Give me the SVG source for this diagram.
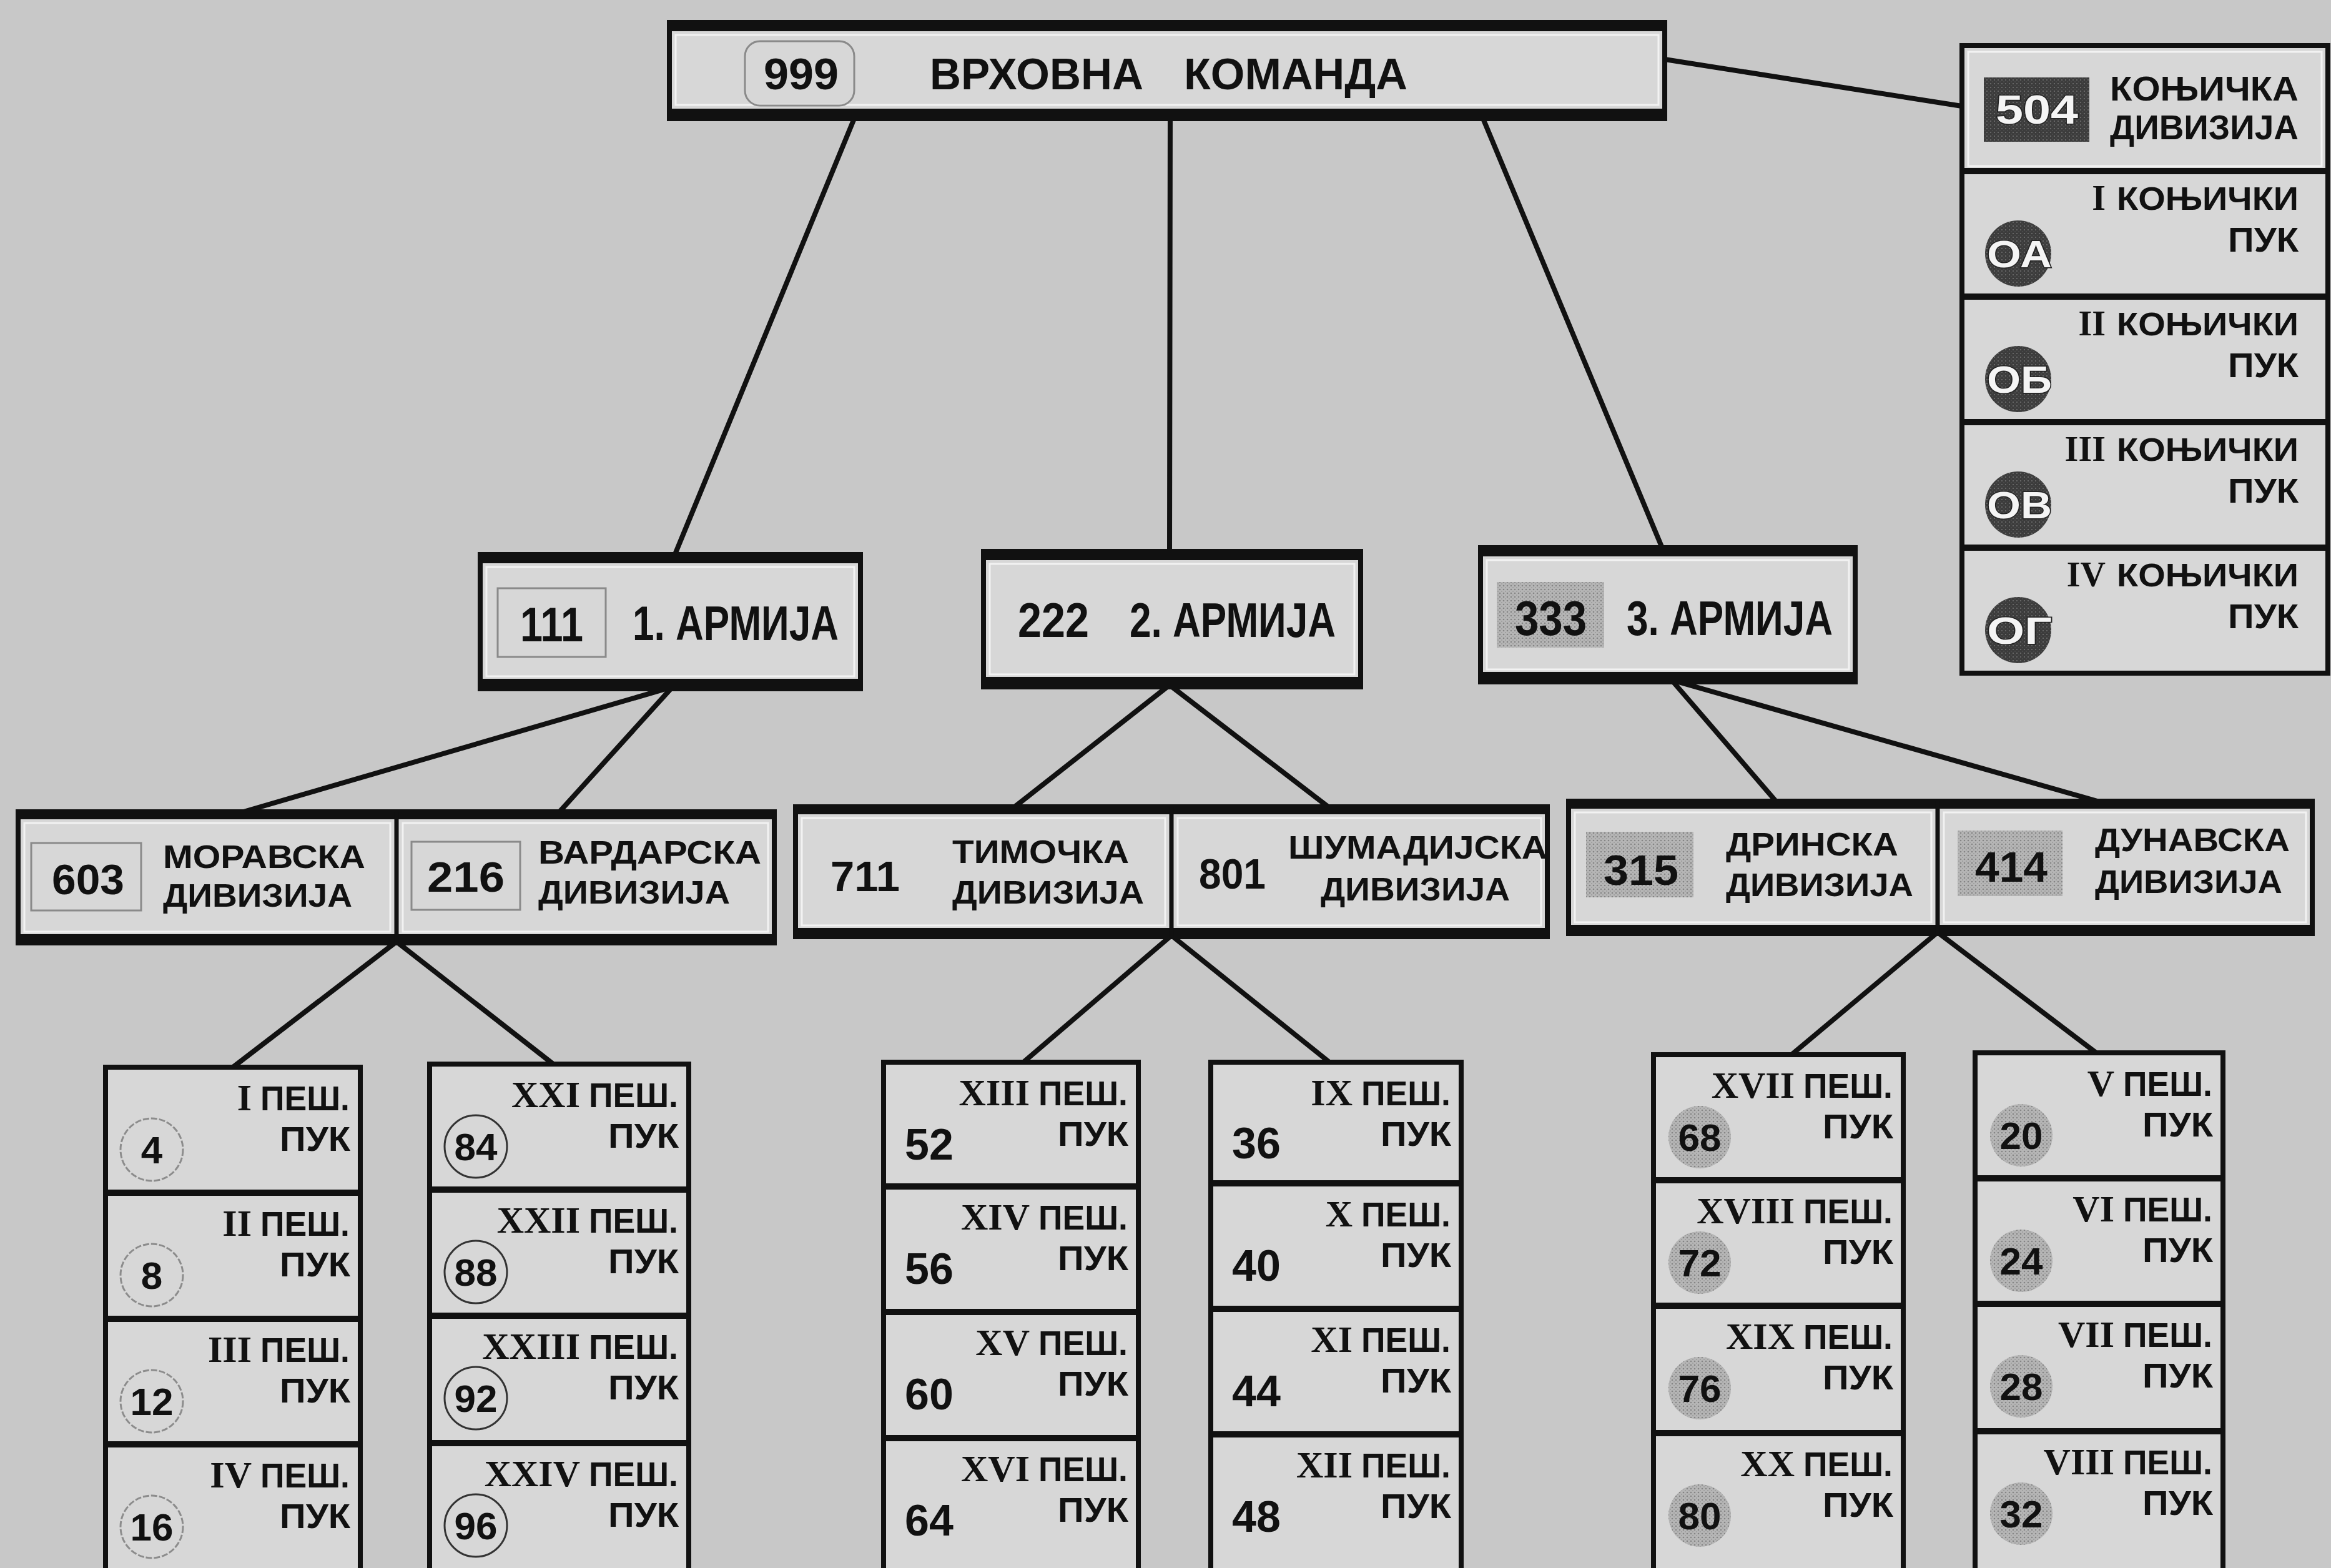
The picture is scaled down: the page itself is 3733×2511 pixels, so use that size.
<svg xmlns="http://www.w3.org/2000/svg" width="3733" height="2511" viewBox="0 0 3733 2511">
<defs>
<style>
.bg{fill:#c8c8c8}
.box{fill:#d7d7d7;stroke:#111;stroke-width:8}
.hl{fill:none;stroke:#f2f2f2;stroke-width:3}
.bar{fill:#111}
.div{stroke:#111;stroke-width:7}
.sep{stroke:#111;stroke-width:10}
.con{stroke:#111;stroke-width:8;fill:none;stroke-linecap:round}
.t{font-family:"Liberation Sans Narrow","Liberation Sans",Arial,sans-serif;font-weight:bold;fill:#111}
.r{font-family:"Liberation Serif","Times New Roman",serif;font-weight:bold;fill:#111}
.big{font-size:70px}
.arm{font-size:78px}
.dn{font-size:52px}
.dnum{font-size:68px}
.lbl{font-size:56px}
.rom{font-size:60px}
.crom{font-size:56px}
.cl{font-size:52px}
.num{font-size:62px;text-anchor:middle}
.mnum{font-size:70px}
.thin{fill:none;stroke:#8a8a8a;stroke-width:3}
.lc{fill:none;stroke:#8c8c8c;stroke-width:3;stroke-dasharray:10 3}
.dc{fill:none;stroke:#333;stroke-width:3}
.sc{fill:url(#stip)}
.kc{fill:url(#dark)}
.wt{font-family:"Liberation Sans Narrow","Liberation Sans",Arial,sans-serif;font-weight:bold;fill:#f4f4f4;stroke:#222;stroke-width:3;paint-order:stroke}
</style>
<pattern id="stip" width="6" height="6" patternUnits="userSpaceOnUse"><rect width="6" height="6" fill="#b6b6b6"/><circle cx="2" cy="2" r="1.3" fill="#858585"/><circle cx="5" cy="5" r="1" fill="#9a9a9a"/></pattern>
<pattern id="dark" width="6" height="6" patternUnits="userSpaceOnUse"><rect width="6" height="6" fill="#3c3c3c"/><circle cx="2" cy="2" r="1.1" fill="#707070"/><circle cx="5" cy="5" r="0.8" fill="#5a5a5a"/></pattern>
</defs>
<rect class="bg" x="0" y="0" width="3733" height="2511"/>

<g id="connectors">
<line class="con" x1="1370" y1="185" x2="1080" y2="890"/>
<line class="con" x1="1874" y1="185" x2="1873" y2="885"/>
<line class="con" x1="2373" y1="185" x2="2663" y2="880"/>
<line class="con" x1="2666" y1="95" x2="3142" y2="170"/>
<line class="con" x1="1077" y1="1100" x2="390" y2="1300"/>
<line class="con" x1="1077" y1="1100" x2="896" y2="1300"/>
<line class="con" x1="1873" y1="1097" x2="1625" y2="1292"/>
<line class="con" x1="1873" y1="1097" x2="2127" y2="1292"/>
<line class="con" x1="2677" y1="1089" x2="2844" y2="1283"/>
<line class="con" x1="2677" y1="1089" x2="3359" y2="1283"/>
<line class="con" x1="635" y1="1508" x2="373" y2="1709"/>
<line class="con" x1="635" y1="1508" x2="886" y2="1704"/>
<line class="con" x1="1876" y1="1498" x2="1639" y2="1701"/>
<line class="con" x1="1876" y1="1498" x2="2129" y2="1701"/>
<line class="con" x1="3103" y1="1493" x2="2869" y2="1689"/>
<line class="con" x1="3103" y1="1493" x2="3357" y2="1686"/>
</g>

<g id="vrhovna-komanda">
<rect class="box" x="1072" y="36" width="1594" height="154"/>
<rect class="hl" x="1082" y="56" width="1574" height="112"/>
<rect class="bar" x="1068" y="32" width="1602" height="18"/>
<rect class="bar" x="1068" y="174" width="1602" height="18"/>
<rect class="thin" x="1193" y="66" width="175" height="103" rx="24"/>
<text class="t big" x="1223" y="143" textLength="120" lengthAdjust="spacingAndGlyphs">999</text>
<text class="t big" x="1489" y="143" textLength="342" lengthAdjust="spacingAndGlyphs">ВРХОВНА</text>
<text class="t big" x="1896" y="143" textLength="358" lengthAdjust="spacingAndGlyphs">КОМАНДА</text>
</g>

<g id="armija-1">
<rect class="box" x="769" y="888" width="609" height="215"/>
<rect class="hl" x="779" y="908" width="589" height="175"/>
<rect class="bar" x="765" y="884" width="617" height="18"/>
<rect class="bar" x="765" y="1087" width="617" height="18"/>
<rect class="thin" x="797" y="942" width="173" height="110"/>
<text class="t arm" x="833" y="1027" textLength="101" lengthAdjust="spacingAndGlyphs">111</text>
<text class="t arm" x="1013" y="1025" textLength="330" lengthAdjust="spacingAndGlyphs">1. АРМИЈА</text>
</g>

<g id="armija-2">
<rect class="box" x="1575" y="883" width="604" height="217"/>
<rect class="hl" x="1585" y="903" width="584" height="177"/>
<rect class="bar" x="1571" y="879" width="612" height="18"/>
<rect class="bar" x="1571" y="1084" width="612" height="18"/>
<text class="t arm" x="1630" y="1020" textLength="114" lengthAdjust="spacingAndGlyphs">222</text>
<text class="t arm" x="1809" y="1020" textLength="330" lengthAdjust="spacingAndGlyphs">2. АРМИЈА</text>
</g>

<g id="armija-3">
<rect class="box" x="2371" y="877" width="600" height="215"/>
<rect class="hl" x="2381" y="897" width="580" height="175"/>
<rect class="bar" x="2367" y="873" width="608" height="18"/>
<rect class="bar" x="2367" y="1076" width="608" height="18"/>
<rect class="sc" x="2397" y="932" width="172" height="105"/>
<text class="t arm" x="2426" y="1017" textLength="115" lengthAdjust="spacingAndGlyphs">333</text>
<text class="t arm" x="2605" y="1017" textLength="330" lengthAdjust="spacingAndGlyphs">3. АРМИЈА</text>
</g>

<g id="konjicka-divizija">
<rect class="box" x="3142" y="73" width="586" height="1005"/>
<rect class="hl" x="3152" y="83" width="566" height="183"/>
<line class="sep" x1="3142" y1="274" x2="3728" y2="274"/>
<line class="sep" x1="3142" y1="475" x2="3728" y2="475"/>
<line class="sep" x1="3142" y1="676" x2="3728" y2="676"/>
<line class="sep" x1="3142" y1="877" x2="3728" y2="877"/>
<rect class="kc" x="3177" y="124" width="169" height="103"/>
<text class="wt" x="3196" y="198" font-size="64" textLength="132" lengthAdjust="spacingAndGlyphs">504</text>
<text class="t" x="3379" y="161" font-size="56" textLength="302" lengthAdjust="spacingAndGlyphs">КОЊИЧКА</text>
<text class="t" x="3379" y="223" font-size="56" textLength="302" lengthAdjust="spacingAndGlyphs">ДИВИЗИЈА</text>
</g>
<g id="konjicki-puk-1">
<text class="r crom" x="3372" y="336" text-anchor="end">I</text>
<text class="t cl" x="3390" y="336" textLength="291" lengthAdjust="spacingAndGlyphs">КОЊИЧКИ</text>
<text class="t lbl" x="3568" y="403" textLength="113" lengthAdjust="spacingAndGlyphs">ПУК</text>
<circle class="kc" cx="3232" cy="406" r="53"/>
<text class="wt" x="3182" y="428" font-size="62" textLength="104" lengthAdjust="spacingAndGlyphs">ОА</text>
</g>
<g id="konjicki-puk-2">
<text class="r crom" x="3372" y="537" text-anchor="end">II</text>
<text class="t cl" x="3390" y="537" textLength="291" lengthAdjust="spacingAndGlyphs">КОЊИЧКИ</text>
<text class="t lbl" x="3568" y="604" textLength="113" lengthAdjust="spacingAndGlyphs">ПУК</text>
<circle class="kc" cx="3232" cy="607" r="53"/>
<text class="wt" x="3182" y="629" font-size="62" textLength="104" lengthAdjust="spacingAndGlyphs">ОБ</text>
</g>
<g id="konjicki-puk-3">
<text class="r crom" x="3372" y="738" text-anchor="end">III</text>
<text class="t cl" x="3390" y="738" textLength="291" lengthAdjust="spacingAndGlyphs">КОЊИЧКИ</text>
<text class="t lbl" x="3568" y="805" textLength="113" lengthAdjust="spacingAndGlyphs">ПУК</text>
<circle class="kc" cx="3232" cy="808" r="53"/>
<text class="wt" x="3182" y="830" font-size="62" textLength="104" lengthAdjust="spacingAndGlyphs">ОВ</text>
</g>
<g id="konjicki-puk-4">
<text class="r crom" x="3372" y="939" text-anchor="end">IV</text>
<text class="t cl" x="3390" y="939" textLength="291" lengthAdjust="spacingAndGlyphs">КОЊИЧКИ</text>
<text class="t lbl" x="3568" y="1006" textLength="113" lengthAdjust="spacingAndGlyphs">ПУК</text>
<circle class="kc" cx="3232" cy="1009" r="53"/>
<text class="wt" x="3182" y="1031" font-size="62" textLength="104" lengthAdjust="spacingAndGlyphs">ОГ</text>
</g>

<g id="divizije-1">
<rect class="box" x="29" y="1300" width="1211" height="210"/>
<rect class="hl" x="39" y="1318" width="586" height="174"/>
<rect class="hl" x="645" y="1318" width="585" height="174"/>
<rect class="bar" x="25" y="1296" width="1219" height="16"/>
<rect class="bar" x="25" y="1496" width="1219" height="16"/>
<line class="div" x1="635" y1="1300" x2="635" y2="1510"/>
</g>
<g id="moravska">
<rect class="thin" x="50" y="1350" width="176" height="108"/>
<text class="t dnum" x="83" y="1432" textLength="116" lengthAdjust="spacingAndGlyphs">603</text>
<text class="t dn" x="261" y="1390" textLength="324" lengthAdjust="spacingAndGlyphs">МОРАВСКА</text>
<text class="t dn" x="261" y="1452" textLength="303" lengthAdjust="spacingAndGlyphs">ДИВИЗИЈА</text>
</g>
<g id="vardarska">
<rect class="thin" x="659" y="1348" width="174" height="109"/>
<text class="t dnum" x="684" y="1428" textLength="124" lengthAdjust="spacingAndGlyphs">216</text>
<text class="t dn" x="862" y="1383" textLength="357" lengthAdjust="spacingAndGlyphs">ВАРДАРСКА</text>
<text class="t dn" x="862" y="1447" textLength="307" lengthAdjust="spacingAndGlyphs">ДИВИЗИЈА</text>
</g>

<g id="divizije-2">
<rect class="box" x="1274" y="1292" width="1204" height="208"/>
<rect class="hl" x="1284" y="1310" width="582" height="172"/>
<rect class="hl" x="1886" y="1310" width="582" height="172"/>
<rect class="bar" x="1270" y="1288" width="1212" height="16"/>
<rect class="bar" x="1270" y="1486" width="1212" height="16"/>
<line class="div" x1="1876" y1="1292" x2="1876" y2="1500"/>
</g>
<g id="timocka">
<text class="t dnum" x="1330" y="1427" textLength="111" lengthAdjust="spacingAndGlyphs">711</text>
<text class="t dn" x="1525" y="1382" textLength="283" lengthAdjust="spacingAndGlyphs">ТИМОЧКА</text>
<text class="t dn" x="1525" y="1447" textLength="307" lengthAdjust="spacingAndGlyphs">ДИВИЗИЈА</text>
</g>
<g id="sumadijska">
<text class="t dnum" x="1920" y="1423" textLength="107" lengthAdjust="spacingAndGlyphs">801</text>
<text class="t dn" x="2063" y="1375" textLength="415" lengthAdjust="spacingAndGlyphs">ШУМАДИЈСКА</text>
<text class="t dn" x="2115" y="1442" textLength="303" lengthAdjust="spacingAndGlyphs">ДИВИЗИЈА</text>
</g>

<g id="divizije-3">
<rect class="box" x="2512" y="1283" width="1191" height="212"/>
<rect class="hl" x="2522" y="1301" width="571" height="176"/>
<rect class="hl" x="3113" y="1301" width="580" height="176"/>
<rect class="bar" x="2508" y="1279" width="1199" height="16"/>
<rect class="bar" x="2508" y="1481" width="1199" height="16"/>
<line class="div" x1="3103" y1="1283" x2="3103" y2="1495"/>
</g>
<g id="drinska">
<rect class="sc" x="2540" y="1332" width="172" height="105"/>
<text class="t dnum" x="2568" y="1417" textLength="120" lengthAdjust="spacingAndGlyphs">315</text>
<text class="t dn" x="2764" y="1370" textLength="276" lengthAdjust="spacingAndGlyphs">ДРИНСКА</text>
<text class="t dn" x="2764" y="1435" textLength="300" lengthAdjust="spacingAndGlyphs">ДИВИЗИЈА</text>
</g>
<g id="dunavska">
<rect class="sc" x="3135" y="1330" width="168" height="105"/>
<text class="t dnum" x="3163" y="1412" textLength="116" lengthAdjust="spacingAndGlyphs">414</text>
<text class="t dn" x="3355" y="1363" textLength="312" lengthAdjust="spacingAndGlyphs">ДУНАВСКА</text>
<text class="t dn" x="3355" y="1430" textLength="300" lengthAdjust="spacingAndGlyphs">ДИВИЗИЈА</text>
</g>

<g id="kolona-1">
<rect class="box" x="169" y="1709" width="408" height="830"/>
<line class="sep" x1="169" y1="1910" x2="577" y2="1910"/>
<line class="sep" x1="169" y1="2112" x2="577" y2="2112"/>
<line class="sep" x1="169" y1="2313" x2="577" y2="2313"/>
</g>
<g id="puk-I">
<text class="r rom" x="403" y="1778" text-anchor="end">I</text>
<text class="t lbl" x="417" y="1778" textLength="143" lengthAdjust="spacingAndGlyphs">ПЕШ.</text>
<text class="t lbl" x="448" y="1843" textLength="113" lengthAdjust="spacingAndGlyphs">ПУК</text>
<circle class="lc" cx="243" cy="1841" r="50"/>
<text class="t num" x="243" y="1863">4</text>
</g>
<g id="puk-II">
<text class="r rom" x="403" y="1979" text-anchor="end">II</text>
<text class="t lbl" x="417" y="1979" textLength="143" lengthAdjust="spacingAndGlyphs">ПЕШ.</text>
<text class="t lbl" x="448" y="2044" textLength="113" lengthAdjust="spacingAndGlyphs">ПУК</text>
<circle class="lc" cx="243" cy="2042" r="50"/>
<text class="t num" x="243" y="2064">8</text>
</g>
<g id="puk-III">
<text class="r rom" x="403" y="2181" text-anchor="end">III</text>
<text class="t lbl" x="417" y="2181" textLength="143" lengthAdjust="spacingAndGlyphs">ПЕШ.</text>
<text class="t lbl" x="448" y="2246" textLength="113" lengthAdjust="spacingAndGlyphs">ПУК</text>
<circle class="lc" cx="243" cy="2244" r="50"/>
<text class="t num" x="243" y="2266">12</text>
</g>
<g id="puk-IV">
<text class="r rom" x="403" y="2382" text-anchor="end">IV</text>
<text class="t lbl" x="417" y="2382" textLength="143" lengthAdjust="spacingAndGlyphs">ПЕШ.</text>
<text class="t lbl" x="448" y="2447" textLength="113" lengthAdjust="spacingAndGlyphs">ПУК</text>
<circle class="lc" cx="243" cy="2445" r="50"/>
<text class="t num" x="243" y="2467">16</text>
</g>

<g id="kolona-2">
<rect class="box" x="688" y="1704" width="415" height="835"/>
<line class="sep" x1="688" y1="1905" x2="1103" y2="1905"/>
<line class="sep" x1="688" y1="2107" x2="1103" y2="2107"/>
<line class="sep" x1="688" y1="2311" x2="1103" y2="2311"/>
</g>
<g id="puk-XXI">
<text class="r rom" x="929" y="1773" text-anchor="end">XXI</text>
<text class="t lbl" x="943" y="1773" textLength="143" lengthAdjust="spacingAndGlyphs">ПЕШ.</text>
<text class="t lbl" x="974" y="1838" textLength="113" lengthAdjust="spacingAndGlyphs">ПУК</text>
<circle class="dc" cx="762" cy="1836" r="50"/>
<text class="t num" x="762" y="1858">84</text>
</g>
<g id="puk-XXII">
<text class="r rom" x="929" y="1974" text-anchor="end">XXII</text>
<text class="t lbl" x="943" y="1974" textLength="143" lengthAdjust="spacingAndGlyphs">ПЕШ.</text>
<text class="t lbl" x="974" y="2039" textLength="113" lengthAdjust="spacingAndGlyphs">ПУК</text>
<circle class="dc" cx="762" cy="2037" r="50"/>
<text class="t num" x="762" y="2059">88</text>
</g>
<g id="puk-XXIII">
<text class="r rom" x="929" y="2176" text-anchor="end">XXIII</text>
<text class="t lbl" x="943" y="2176" textLength="143" lengthAdjust="spacingAndGlyphs">ПЕШ.</text>
<text class="t lbl" x="974" y="2241" textLength="113" lengthAdjust="spacingAndGlyphs">ПУК</text>
<circle class="dc" cx="762" cy="2239" r="50"/>
<text class="t num" x="762" y="2261">92</text>
</g>
<g id="puk-XXIV">
<text class="r rom" x="929" y="2380" text-anchor="end">XXIV</text>
<text class="t lbl" x="943" y="2380" textLength="143" lengthAdjust="spacingAndGlyphs">ПЕШ.</text>
<text class="t lbl" x="974" y="2445" textLength="113" lengthAdjust="spacingAndGlyphs">ПУК</text>
<circle class="dc" cx="762" cy="2443" r="50"/>
<text class="t num" x="762" y="2465">96</text>
</g>

<g id="kolona-3">
<rect class="box" x="1415" y="1701" width="408" height="838"/>
<line class="sep" x1="1415" y1="1900" x2="1823" y2="1900"/>
<line class="sep" x1="1415" y1="2101" x2="1823" y2="2101"/>
<line class="sep" x1="1415" y1="2303" x2="1823" y2="2303"/>
</g>
<g id="puk-XIII">
<text class="r rom" x="1649" y="1770" text-anchor="end">XIII</text>
<text class="t lbl" x="1663" y="1770" textLength="143" lengthAdjust="spacingAndGlyphs">ПЕШ.</text>
<text class="t lbl" x="1694" y="1835" textLength="113" lengthAdjust="spacingAndGlyphs">ПУК</text>
<text class="t mnum" x="1449" y="1857">52</text>
</g>
<g id="puk-XIV">
<text class="r rom" x="1649" y="1969" text-anchor="end">XIV</text>
<text class="t lbl" x="1663" y="1969" textLength="143" lengthAdjust="spacingAndGlyphs">ПЕШ.</text>
<text class="t lbl" x="1694" y="2034" textLength="113" lengthAdjust="spacingAndGlyphs">ПУК</text>
<text class="t mnum" x="1449" y="2056">56</text>
</g>
<g id="puk-XV">
<text class="r rom" x="1649" y="2170" text-anchor="end">XV</text>
<text class="t lbl" x="1663" y="2170" textLength="143" lengthAdjust="spacingAndGlyphs">ПЕШ.</text>
<text class="t lbl" x="1694" y="2235" textLength="113" lengthAdjust="spacingAndGlyphs">ПУК</text>
<text class="t mnum" x="1449" y="2257">60</text>
</g>
<g id="puk-XVI">
<text class="r rom" x="1649" y="2372" text-anchor="end">XVI</text>
<text class="t lbl" x="1663" y="2372" textLength="143" lengthAdjust="spacingAndGlyphs">ПЕШ.</text>
<text class="t lbl" x="1694" y="2437" textLength="113" lengthAdjust="spacingAndGlyphs">ПУК</text>
<text class="t mnum" x="1449" y="2459">64</text>
</g>

<g id="kolona-4">
<rect class="box" x="1939" y="1701" width="401" height="838"/>
<line class="sep" x1="1939" y1="1895" x2="2340" y2="1895"/>
<line class="sep" x1="1939" y1="2096" x2="2340" y2="2096"/>
<line class="sep" x1="1939" y1="2297" x2="2340" y2="2297"/>
</g>
<g id="puk-IX">
<text class="r rom" x="2166" y="1770" text-anchor="end">IX</text>
<text class="t lbl" x="2180" y="1770" textLength="143" lengthAdjust="spacingAndGlyphs">ПЕШ.</text>
<text class="t lbl" x="2211" y="1835" textLength="113" lengthAdjust="spacingAndGlyphs">ПУК</text>
<text class="t mnum" x="1973" y="1855">36</text>
</g>
<g id="puk-X">
<text class="r rom" x="2166" y="1964" text-anchor="end">X</text>
<text class="t lbl" x="2180" y="1964" textLength="143" lengthAdjust="spacingAndGlyphs">ПЕШ.</text>
<text class="t lbl" x="2211" y="2029" textLength="113" lengthAdjust="spacingAndGlyphs">ПУК</text>
<text class="t mnum" x="1973" y="2051">40</text>
</g>
<g id="puk-XI">
<text class="r rom" x="2166" y="2165" text-anchor="end">XI</text>
<text class="t lbl" x="2180" y="2165" textLength="143" lengthAdjust="spacingAndGlyphs">ПЕШ.</text>
<text class="t lbl" x="2211" y="2230" textLength="113" lengthAdjust="spacingAndGlyphs">ПУК</text>
<text class="t mnum" x="1973" y="2252">44</text>
</g>
<g id="puk-XII">
<text class="r rom" x="2166" y="2366" text-anchor="end">XII</text>
<text class="t lbl" x="2180" y="2366" textLength="143" lengthAdjust="spacingAndGlyphs">ПЕШ.</text>
<text class="t lbl" x="2211" y="2431" textLength="113" lengthAdjust="spacingAndGlyphs">ПУК</text>
<text class="t mnum" x="1973" y="2453">48</text>
</g>

<g id="kolona-5">
<rect class="box" x="2648" y="1689" width="400" height="850"/>
<line class="sep" x1="2648" y1="1890" x2="3048" y2="1890"/>
<line class="sep" x1="2648" y1="2091" x2="3048" y2="2091"/>
<line class="sep" x1="2648" y1="2295" x2="3048" y2="2295"/>
</g>
<g id="puk-XVII">
<text class="r rom" x="2874" y="1758" text-anchor="end">XVII</text>
<text class="t lbl" x="2888" y="1758" textLength="143" lengthAdjust="spacingAndGlyphs">ПЕШ.</text>
<text class="t lbl" x="2919" y="1823" textLength="113" lengthAdjust="spacingAndGlyphs">ПУК</text>
<circle class="sc" cx="2722" cy="1821" r="50"/>
<text class="t num" x="2722" y="1843">68</text>
</g>
<g id="puk-XVIII">
<text class="r rom" x="2874" y="1959" text-anchor="end">XVIII</text>
<text class="t lbl" x="2888" y="1959" textLength="143" lengthAdjust="spacingAndGlyphs">ПЕШ.</text>
<text class="t lbl" x="2919" y="2024" textLength="113" lengthAdjust="spacingAndGlyphs">ПУК</text>
<circle class="sc" cx="2722" cy="2022" r="50"/>
<text class="t num" x="2722" y="2044">72</text>
</g>
<g id="puk-XIX">
<text class="r rom" x="2874" y="2160" text-anchor="end">XIX</text>
<text class="t lbl" x="2888" y="2160" textLength="143" lengthAdjust="spacingAndGlyphs">ПЕШ.</text>
<text class="t lbl" x="2919" y="2225" textLength="113" lengthAdjust="spacingAndGlyphs">ПУК</text>
<circle class="sc" cx="2722" cy="2223" r="50"/>
<text class="t num" x="2722" y="2245">76</text>
</g>
<g id="puk-XX">
<text class="r rom" x="2874" y="2364" text-anchor="end">XX</text>
<text class="t lbl" x="2888" y="2364" textLength="143" lengthAdjust="spacingAndGlyphs">ПЕШ.</text>
<text class="t lbl" x="2919" y="2429" textLength="113" lengthAdjust="spacingAndGlyphs">ПУК</text>
<circle class="sc" cx="2722" cy="2427" r="50"/>
<text class="t num" x="2722" y="2449">80</text>
</g>

<g id="kolona-6">
<rect class="box" x="3163" y="1686" width="397" height="853"/>
<line class="sep" x1="3163" y1="1887" x2="3560" y2="1887"/>
<line class="sep" x1="3163" y1="2088" x2="3560" y2="2088"/>
<line class="sep" x1="3163" y1="2292" x2="3560" y2="2292"/>
</g>
<g id="puk-V">
<text class="r rom" x="3386" y="1755" text-anchor="end">V</text>
<text class="t lbl" x="3400" y="1755" textLength="143" lengthAdjust="spacingAndGlyphs">ПЕШ.</text>
<text class="t lbl" x="3431" y="1820" textLength="113" lengthAdjust="spacingAndGlyphs">ПУК</text>
<circle class="sc" cx="3237" cy="1818" r="50"/>
<text class="t num" x="3237" y="1840">20</text>
</g>
<g id="puk-VI">
<text class="r rom" x="3386" y="1956" text-anchor="end">VI</text>
<text class="t lbl" x="3400" y="1956" textLength="143" lengthAdjust="spacingAndGlyphs">ПЕШ.</text>
<text class="t lbl" x="3431" y="2021" textLength="113" lengthAdjust="spacingAndGlyphs">ПУК</text>
<circle class="sc" cx="3237" cy="2019" r="50"/>
<text class="t num" x="3237" y="2041">24</text>
</g>
<g id="puk-VII">
<text class="r rom" x="3386" y="2157" text-anchor="end">VII</text>
<text class="t lbl" x="3400" y="2157" textLength="143" lengthAdjust="spacingAndGlyphs">ПЕШ.</text>
<text class="t lbl" x="3431" y="2222" textLength="113" lengthAdjust="spacingAndGlyphs">ПУК</text>
<circle class="sc" cx="3237" cy="2220" r="50"/>
<text class="t num" x="3237" y="2242">28</text>
</g>
<g id="puk-VIII">
<text class="r rom" x="3386" y="2361" text-anchor="end">VIII</text>
<text class="t lbl" x="3400" y="2361" textLength="143" lengthAdjust="spacingAndGlyphs">ПЕШ.</text>
<text class="t lbl" x="3431" y="2426" textLength="113" lengthAdjust="spacingAndGlyphs">ПУК</text>
<circle class="sc" cx="3237" cy="2424" r="50"/>
<text class="t num" x="3237" y="2446">32</text>
</g>
</svg>
